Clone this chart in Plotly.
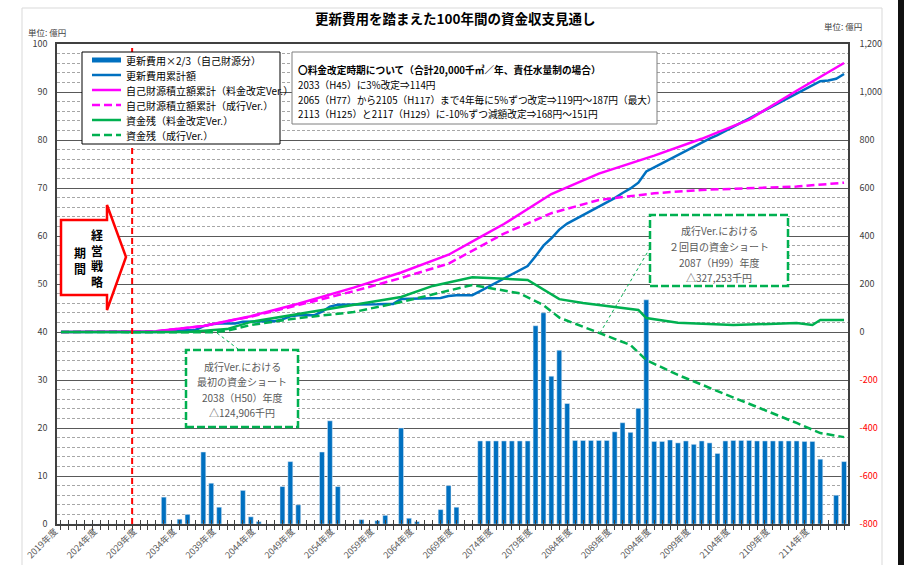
import plotly.graph_objects as go

FONT = "Noto Sans CJK JP"

# ---------------- data ----------------
years = list(range(2019, 2119))

# 更新費用×2/3（自己財源分）  [億円, left axis]
renewal_two_thirds = [
    0, 0, 0, 0, 0, 0, 0, 0, 0, 0, 0, 0, 0,                 # 2019-2031
    5.6, 0, 1.0, 2.0, 0, 15.0, 8.5, 3.5, 0, 0,              # 2032-2041
    7.0, 1.5, 0.5, 0, 0, 7.8, 13.0, 4.0, 0, 0,              # 2042-2051
    15.0, 21.5, 7.8, 0, 0, 0.9, 0, 0.7, 1.8, 0,             # 2052-2061
    20.0, 1.2, 0.5, 0, 0, 3.0, 8.0, 3.5, 0, 0,              # 2062-2071
    17.3, 17.3, 17.3, 17.3, 17.3, 17.3, 17.3, 41.3, 44.0, 30.8,   # 2072-2081
    36.2, 25.1, 17.4, 17.4, 17.4, 17.4, 17.4, 19.2, 21.1, 19.1,   # 2082-2091
    24.1, 46.7, 17.2, 17.2, 17.5, 16.9, 17.3, 16.6, 17.3, 16.9,   # 2092-2101
    14.7, 17.3, 17.4, 17.4, 17.4, 17.3, 17.3, 17.3, 17.3, 17.3,   # 2102-2111
    17.3, 17.2, 17.2, 13.5, 0, 6.0, 13.0,                          # 2112-2118
]

# 更新費用累計額 [億円, right axis]
renewal_cumulative = [
    0, 0, 0, 0, 0, 0, 0, 0, 0, 0, 0, 0, 0,
    5.6, 5.6, 6.6, 8.6, 8.6, 23.6, 32.1, 35.6, 35.6, 35.6,
    42.6, 44.1, 44.6, 44.6, 44.6, 52.4, 65.4, 69.4, 69.4, 69.4,
    84.4, 105.9, 113.7, 113.7, 113.7, 114.6, 114.6, 115.3, 117.1, 117.1,
    137.1, 138.3, 138.8, 138.8, 138.8, 141.8, 149.8, 153.3, 153.3, 153.3,
    170.6, 187.9, 205.2, 222.5, 239.8, 257.1, 274.4, 315.7, 359.7, 390.5,
    426.7, 451.8, 469.2, 486.6, 504.0, 521.4, 538.8, 558.0, 579.1, 598.2,
    622.3, 669.0, 686.2, 703.4, 720.9, 737.8, 755.1, 771.7, 789.0, 805.9,
    820.6, 837.9, 855.3, 872.7, 890.1, 907.4, 924.7, 942.0, 959.3, 976.6,
    993.9, 1011.1, 1028.3, 1045.0, 1048.0, 1055.0, 1075.0,
]

# 自己財源積立額累計（料金改定Ver.）
fund_revised_years = [2019, 2030, 2031, 2037, 2043, 2049, 2056, 2062, 2068, 2072, 2075, 2081, 2087, 2094, 2100, 2106, 2112, 2118]
fund_revised_vals = [0, 0, 3, 25, 66, 118, 185, 248, 322, 395, 450, 575, 660, 735, 805, 885, 1005, 1121]

# 自己財源積立額累計（成行Ver.）
fund_status_years = [2019, 2030, 2031, 2037, 2043, 2049, 2056, 2062, 2068, 2075, 2081, 2087, 2094, 2100, 2106, 2112, 2118]
fund_status_vals = [0, 0, 3, 25, 64, 112, 170, 225, 285, 410, 495, 550, 578, 592, 600, 606, 622]

# 資金残（料金改定Ver.）
balance_revised_years = [2019, 2035, 2040, 2043, 2049, 2056, 2062, 2066, 2071, 2078, 2082, 2085, 2089, 2092, 2093, 2097, 2104, 2112, 2114, 2115, 2118]
balance_revised_vals = [0, 0, 12, 42, 75, 112, 146, 192, 228, 217, 137, 121, 105, 92, 58, 39, 29, 37, 29, 50, 50]

# 資金残（成行Ver.）
balance_status_years = [2019, 2031, 2035, 2038, 2040, 2043, 2049, 2056, 2062, 2067, 2071, 2077, 2080, 2082, 2087, 2091, 2093, 2097, 2102, 2107, 2112, 2115, 2118]
balance_status_vals = [0, 0, -0.5, -1.25, 5, 29, 58, 83, 125, 164, 196, 161, 112, 60, -3, -54, -117, -179, -246, -312, -379, -421, -438]

x_tick_labels = [f"{y}年度" if (y - 2019) % 5 == 0 else "" for y in years]
left_ticks = [0, 10, 20, 30, 40, 50, 60, 70, 80, 90, 100]
right_ticks = [-800, -600, -400, -200, 0, 200, 400, 600, 800, 1000, 1200]
right_tick_labels = ["-800", "-600", "-400", "-200", "0", "200", "400", "600", "800", "1,000", "1,200"]

legend_names = [
    "更新費用×2/3（自己財源分）",
    "更新費用累計額",
    "自己財源積立額累計（料金改定Ver.）",
    "自己財源積立額累計（成行Ver.）",
    "資金残（料金改定Ver.）",
    "資金残（成行Ver.）",
]
strategy_end_year = 2028

# ---------------- geometry helpers ----------------
W, H = 904, 565
L, R, T, B = 57, 848, 44, 524


def px(x):
    return (x - L) / (R - L)


def py(y):
    return (B - y) / (B - T)


BLUE = "#0070C0"
MAG = "#FF00FF"
GREEN = "#00B050"
DASH = "8px,4px"

fig = go.Figure()
fig.add_trace(go.Bar(x=years, y=renewal_two_thirds, marker_color=BLUE, width=0.62,
                     yaxis="y", name=legend_names[0], showlegend=False))
fig.add_trace(go.Scatter(x=years, y=renewal_cumulative, mode="lines", yaxis="y2",
                         line=dict(color=BLUE, width=2.5), name=legend_names[1], showlegend=False))
fig.add_trace(go.Scatter(x=fund_revised_years, y=fund_revised_vals, mode="lines", yaxis="y2",
                         line=dict(color=MAG, width=2.5), name=legend_names[2], showlegend=False))
fig.add_trace(go.Scatter(x=fund_status_years, y=fund_status_vals, mode="lines", yaxis="y2",
                         line=dict(color=MAG, width=2.5, dash=DASH), name=legend_names[3], showlegend=False))
fig.add_trace(go.Scatter(x=balance_revised_years, y=balance_revised_vals, mode="lines", yaxis="y2",
                         line=dict(color=GREEN, width=2.5), name=legend_names[4], showlegend=False))
fig.add_trace(go.Scatter(x=balance_status_years, y=balance_status_vals, mode="lines", yaxis="y2",
                         line=dict(color=GREEN, width=2.5, dash=DASH), name=legend_names[5], showlegend=False))
# invisible helper so the overlay x-axis (inner tick marks) is drawn
fig.add_trace(go.Scatter(x=[years[0]], y=[0], xaxis="x2", yaxis="y", mode="markers",
                         marker=dict(opacity=0), showlegend=False, hoverinfo="skip"))

shapes = []
annotations = []

# red dashed line: end of 経営戦略期間
shapes.append(dict(type="line", xref="x", yref="paper", x0=strategy_end_year, x1=strategy_end_year,
                   y0=0, y1=1, line=dict(color="#FF0000", width=2, dash="6px,4px"), layer="above"))

# legend box
shapes.append(dict(type="rect", xref="paper", yref="paper", x0=px(82), x1=px(280), y0=py(144), y1=py(52),
                   fillcolor="white", line=dict(color="#000000", width=1), layer="above"))
leg_y = [60, 75, 90, 105, 120, 135]
leg_styles = [(BLUE, 5, "solid"), (BLUE, 2.5, "solid"), (MAG, 2.5, "solid"), (MAG, 2.5, DASH),
              (GREEN, 2.5, "solid"), (GREEN, 2.5, DASH)]
for yy, (c, w, d), name in zip(leg_y, leg_styles, legend_names):
    shapes.append(dict(type="line", xref="paper", yref="paper", x0=px(92), x1=px(121), y0=py(yy), y1=py(yy),
                       line=dict(color=c, width=w, dash=d), layer="above"))
    annotations.append(dict(x=px(124), y=py(yy), xref="paper", yref="paper", text=name, showarrow=False,
                            xanchor="left", yanchor="middle", font=dict(family=FONT, size=10, color="#000000")))

# note box
shapes.append(dict(type="rect", xref="paper", yref="paper", x0=px(292), x1=px(657), y0=py(124), y1=py(52),
                   fillcolor="white", line=dict(color="#7F7F7F", width=1), layer="above"))
note_lines = [
    "<b>〇料金改定時期について（合計20,000千㎥／年、責任水量制の場合）</b>",
    "2033（H45）に3%改定⇒114円",
    "2065（H77）から2105（H117）まで4年毎に5%ずつ改定⇒119円～187円（最大）",
    "2113（H125）と2117（H129）に-10%ずつ減額改定⇒168円～151円",
]
for yy, s in zip([70, 85, 100, 114], note_lines):
    annotations.append(dict(x=px(296), y=py(yy), xref="paper", yref="paper", text=s, showarrow=False,
                            xanchor="left", yanchor="middle", font=dict(family=FONT, size=9.7, color="#000000")))

# callout boxes
callouts = [
    ((186, 350, 298, 427), ["成行Ver.における", "最初の資金ショート", "2038（H50）年度", "△124,906千円"],
     ((217, 333), (238, 349))),
    ((650, 215, 788, 286), ["成行Ver.における", "２回目の資金ショート", "2087（H99）年度", "△327,253千円"],
     ((600, 333), (650, 248))),
]
for (x0, y0, x1, y1), lines, ((lx0, ly0), (lx1, ly1)) in callouts:
    shapes.append(dict(type="line", xref="paper", yref="paper", x0=px(lx0), y0=py(ly0), x1=px(lx1), y1=py(ly1),
                       line=dict(color=GREEN, width=1, dash="dot"), layer="above"))
    shapes.append(dict(type="rect", xref="paper", yref="paper", x0=px(x0), x1=px(x1), y0=py(y1), y1=py(y0),
                       fillcolor="white", line=dict(color=GREEN, width=2.5, dash="8px,3px"), layer="above"))
    cx = (x0 + x1) / 2
    for i, s in enumerate(lines):
        annotations.append(dict(x=px(cx), y=py(y0 + 16 + i * 15.5), xref="paper", yref="paper", text=s,
                                showarrow=False, xanchor="center", yanchor="middle",
                                font=dict(family=FONT, size=10, color="#595959")))

# 経営戦略期間 arrow
pts = [(61, 220), (107, 220), (107, 205), (126, 257), (107, 310), (107, 295), (61, 295)]
path = "M " + " L ".join(f"{px(a):.5f},{py(b):.5f}" for a, b in pts) + " Z"
shapes.append(dict(type="path", xref="paper", yref="paper", path=path, fillcolor="white",
                   line=dict(color="#FF0000", width=2.5), layer="above"))
annotations.append(dict(x=px(97), y=py(258), xref="paper", yref="paper", text="<b>経<br>営<br>戦<br>略</b>",
                        showarrow=False, xanchor="center", yanchor="middle", align="center",
                        font=dict(family=FONT, size=12, color="#000000")))
annotations.append(dict(x=px(80), y=py(260), xref="paper", yref="paper", text="<b>期<br>間</b>",
                        showarrow=False, xanchor="center", yanchor="middle", align="center",
                        font=dict(family=FONT, size=12, color="#000000")))

# title and unit labels
annotations.append(dict(x=px(455), y=py(18), xref="paper", yref="paper",
                        text="<b>更新費用を踏まえた100年間の資金収支見通し</b>", showarrow=False,
                        xanchor="center", yanchor="middle", font=dict(family=FONT, size=13.5, color="#000000")))
annotations.append(dict(x=px(26), y=py(32), xref="paper", yref="paper", text="単位: 億円", showarrow=False,
                        xanchor="left", yanchor="middle", font=dict(family=FONT, size=8.5, color="#404040")))
annotations.append(dict(x=px(822), y=py(26), xref="paper", yref="paper", text="単位: 億円", showarrow=False,
                        xanchor="left", yanchor="middle", font=dict(family=FONT, size=8.5, color="#404040")))

# outer frame
shapes.append(dict(type="rect", xref="paper", yref="paper", x0=px(22), x1=px(882), y0=py(570), y1=py(8),
                   line=dict(color="#D9D9D9", width=1), layer="below"))
shapes.append(dict(type="rect", xref="paper", yref="paper", x0=px(898), x1=px(906), y0=py(570), y1=py(-5),
                   fillcolor="#111111", line=dict(width=0), layer="below"))

right_text = [f'<span style="color:#FF0000">{t}</span>' if v < 0 else t
              for v, t in zip(right_ticks, right_tick_labels)]

fig.update_layout(
    width=W, height=H, autosize=False,
    margin=dict(l=L, r=W - R, t=T, b=H - B, pad=0, autoexpand=False),
    paper_bgcolor="white", plot_bgcolor="white",
    showlegend=False, bargap=0.3,
    font=dict(family=FONT, color="#404040"),
    xaxis=dict(range=[2018.5, 2118.5], tickmode="array", tickvals=years, ticktext=x_tick_labels,
               tickangle=-45, ticks="outside", ticklen=4, tickcolor="#404040", tickwidth=1,
               showline=True, linecolor="#404040", linewidth=1.5, mirror=True, showgrid=False,
               zeroline=False, automargin=False, ticklabelstandoff=-7, ticklabelshift=-6,
               tickfont=dict(family=FONT, size=9, color="#595959")),
    xaxis2=dict(range=[2018.5, 2118.5], overlaying="x", anchor="y", side="bottom", tickmode="array",
                tickvals=years, ticks="inside", ticklen=4, tickcolor="#404040", showticklabels=False,
                showline=False, showgrid=False, zeroline=False, automargin=False),
    yaxis=dict(range=[0, 100], tickmode="array", tickvals=left_ticks, showgrid=True,
               gridcolor="#595959", gridwidth=1, zeroline=False, showline=True, linecolor="#404040",
               linewidth=1.5, ticks="", ticklabelstandoff=6, automargin=False,
               tickfont=dict(family=FONT, size=9, color="#404040"),
               minor=dict(dtick=2, showgrid=True, gridcolor="#A6A6A6", gridwidth=1, griddash="3px,2px")),
    yaxis2=dict(range=[-800, 1200], overlaying="y", side="right", tickmode="array", tickvals=right_ticks,
                ticktext=right_text, showgrid=False, zeroline=False, showline=True, linecolor="#404040",
                linewidth=1.5, ticks="", ticklabelstandoff=8, automargin=False,
                tickfont=dict(family=FONT, size=9, color="#404040")),
    shapes=shapes, annotations=annotations,
)

fig.write_html("out.html")
